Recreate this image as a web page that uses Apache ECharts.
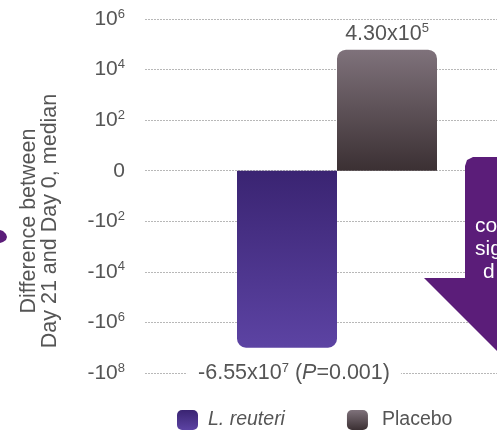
<!DOCTYPE html>
<html>
<head>
<meta charset="utf-8">
<script src="https://cdn.jsdelivr.net/npm/echarts@6/dist/echarts.min.js"></script>
<style>
html,body{margin:0;padding:0;background:#fff;}
#chart{width:497px;height:438px;}
</style>
</head>
<body>
<div id="chart"></div>
<script>
// ---- data ----
var categories = ['Difference'];
var seriesNames = ['L. reuteri', 'Placebo'];
// bar ends as drawn in the picture (symlog axis, real units)
var reuteriValues = [-1.0e7];
var placeboValues = [6.1e4];
// printed labels
var reuteriLabels = ['-6.55x10{s|7} ({i|P}=0.001)'];
var placeboLabels = ['4.30x10{s|5}'];
// tick values on the axis (value = sign * 10^exp, 0 in the middle)
var tickValues = [1e6, 1e4, 1e2, 0, -1e2, -1e4, -1e6, -1e8];
var axisTitle = ['Difference between', 'Day 21 and Day 0, median'];
var arrowTexts = ['co', 'sig', 'd'];

// symlog-style transform: a factor 10^2 per axis step
function tf(v){ return v === 0 ? 0 : Math.sign(v) * Math.log10(Math.abs(v)) / 2; }
var axisSteps = tickValues.map(tf);
var axisMin = Math.min.apply(null, axisSteps);
var axisMax = Math.max.apply(null, axisSteps);

var FONT = '"Liberation Sans", Arial, sans-serif';
var TXT = '#555555';

var chart = echarts.init(document.getElementById('chart'));
var purpleGrad = new echarts.graphic.LinearGradient(0,0,0,1,[
  {offset:0,color:'#3a2472'},{offset:1,color:'#5c43a3'}]);
var greyGrad = new echarts.graphic.LinearGradient(0,0,0,1,[
  {offset:0,color:'#7f727b'},{offset:1,color:'#3b3033'}]);

function supRich(size){
  return {
    s:{fontSize:13, verticalAlign:'top', lineHeight:size+2, fontFamily:FONT, color:TXT},
    i:{fontSize:size, fontStyle:'italic', lineHeight:size+2, fontFamily:FONT, color:TXT}
  };
}

chart.setOption({
  backgroundColor:'#ffffff',
  animation:false,
  textStyle:{fontFamily:FONT},
  grid:[
    {left:145, right:0, top:19, bottom:65},
    {left:177, right:0, top:19, bottom:65}
  ],
  legend:{
    data:seriesNames,
    left:177, top:410, padding:0,
    icon:'roundRect',
    itemWidth:21, itemHeight:20, itemGap:62,
    textStyle:{fontSize:19.5, color:TXT, fontFamily:FONT,
      rich:{
        it:{fontSize:19.5, fontStyle:'italic', color:TXT, fontFamily:FONT, padding:[0,0,0,5]},
        n:{fontSize:19.5, color:TXT, fontFamily:FONT, padding:[0,0,0,9]}
      }},
    formatter:function(n){ return n === 'L. reuteri' ? '{it|' + n + '}' : '{n|' + n + '}'; }
  },
  xAxis:[
    {gridIndex:0, type:'category', data:categories, show:false},
    {gridIndex:1, type:'category', data:categories,
      axisLine:{show:false}, axisTick:{show:false}, axisLabel:{show:false}}
  ],
  yAxis:[
    {
      gridIndex:0, type:'value', min:axisMin, max:axisMax, interval:1,
      axisLine:{show:false}, axisTick:{show:false},
      splitLine:{show:true, lineStyle:{color:'#b8b8b8', width:1, type:[2,1]}},
      axisLabel:{
        margin:20, fontSize:21, color:TXT, fontFamily:FONT, lineHeight:23,
        rich:supRich(21),
        formatter:function(v){
          if (Math.abs(v) < 1e-9) return '0';
          var e = Math.round(Math.abs(v) * 2);
          return (v < 0 ? '-' : '') + '10{s|' + e + '}';
        }
      }
    },
    {
      gridIndex:1, type:'value', min:axisMin, max:axisMax, interval:1,
      axisLine:{show:false}, axisTick:{show:false}, axisLabel:{show:false},
      splitLine:{show:false}
    }
  ],
  series:[
    {
      name:seriesNames[0], type:'bar', xAxisIndex:1, yAxisIndex:1,
      barWidth:100, barGap:'0%',
      data:reuteriValues.map(tf),
      itemStyle:{color:purpleGrad, borderRadius:[0,0,9,9]},
      label:{
        show:true, position:'bottom', distance:14, offset:[7,0],
        fontSize:21.5, color:TXT, fontFamily:FONT, lineHeight:23.5,
        backgroundColor:'#ffffff', padding:[0,11],
        rich:supRich(21.5),
        formatter:function(p){ return reuteriLabels[p.dataIndex]; }
      }
    },
    {
      name:seriesNames[1], type:'bar', xAxisIndex:1, yAxisIndex:1, barWidth:100,
      data:placeboValues.map(tf),
      itemStyle:{color:greyGrad, borderRadius:[9,9,0,0]},
      label:{
        show:true, position:'top', distance:4,
        fontSize:21.5, color:TXT, fontFamily:FONT, lineHeight:23.5,
        rich:supRich(21.5),
        formatter:function(p){ return placeboLabels[p.dataIndex]; }
      }
    }
  ],
  graphic:[
    {
      type:'text', x:40, y:221, rotation:Math.PI/2, z:10,
      style:{text:axisTitle.join('\n'), font:'21.5px ' + FONT, fill:TXT,
        textAlign:'center', textVerticalAlign:'middle', lineHeight:21}
    },
    {
      type:'polygon', z:50,
      shape:{points:[[465,166],[467,160],[473,157],[560,157],[560,278],[590,278],[507,361],[424,278],[465,278]]},
      style:{fill:'#5b1d79'}
    },
    {
      type:'polygon', z:50,
      shape:{points:[[0,230],[3,231],[6,234],[7,237],[6,240],[3,242],[0,243]]},
      style:{fill:'#5b1d79'}
    },
    {type:'text', x:475, y:226, z:60,
      style:{text:arrowTexts[0], font:'21px ' + FONT, fill:'#ffffff', textVerticalAlign:'middle'}},
    {type:'text', x:475, y:249, z:60,
      style:{text:arrowTexts[1], font:'21px ' + FONT, fill:'#ffffff', textVerticalAlign:'middle'}},
    {type:'text', x:483, y:272, z:60,
      style:{text:arrowTexts[2], font:'21px ' + FONT, fill:'#ffffff', textVerticalAlign:'middle'}}
  ]
});
</script>
</body>
</html>
